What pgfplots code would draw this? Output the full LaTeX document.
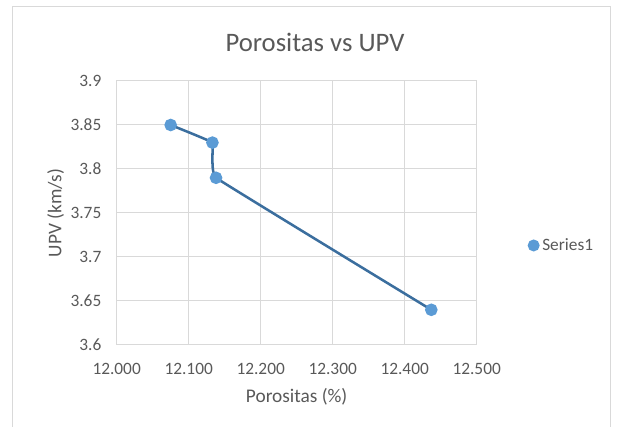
\documentclass[border=0pt]{standalone}
\usepackage{pgfplots}
\pgfplotsset{compat=1.18}
\usepackage{fontspec}
\setmainfont{Carlito}
\definecolor{gridc}{HTML}{D9D9D9}
\definecolor{txtc}{HTML}{595959}
\definecolor{linec}{HTML}{3B6E9E}
\definecolor{markc}{HTML}{5B9BD5}
\begin{document}
\begin{tikzpicture}[x=0.75pt,y=0.75pt]
\useasboundingbox (0,0) rectangle (620,427);
\draw[gridc,line width=0.75pt] (12,0) -- (12,420) -- (610,420) -- (610,0);
\node[txtc,font=\fontsize{20}{24}\selectfont] at (315,385) {Porositas vs UPV};
\begin{axis}[
  at={(87.5pt,61.5pt)}, anchor=south west,
  scale only axis, width=270pt, height=198pt,
  xmin=12, xmax=12.5, ymin=3.6, ymax=3.9,
  xtick={12,12.1,12.2,12.3,12.4,12.5},
  ytick={3.6,3.65,3.7,3.75,3.8,3.85,3.9},
  xticklabel style={yshift=-10.5pt,/pgf/number format/.cd,fixed,fixed zerofill,precision=3,1000 sep={}},
  yticklabel style={xshift=-8pt,/pgf/number format/.cd,fixed,precision=2},
  /pgf/number format/assume math mode=true,
  tick label style={font=\fontsize{13}{15}\selectfont, text=txtc},
  major tick length=0pt,
  grid=major,
  major grid style={gridc, line width=0.75pt},
  axis line style={gridc, line width=0.75pt},
  xlabel={Porositas (\%)}, ylabel={UPV (km/s)},
  label style={font=\fontsize{14.5}{17}\selectfont, text=txtc},
  xlabel style={yshift=-3pt},
  ylabel style={yshift=-2pt},
  legend style={at={(1.13,0.377)}, anchor=west, draw=none, fill=none,
    font=\fontsize{13}{15}\selectfont, text=txtc},
  legend image code/.code={\fill[markc] (0.1cm,0) circle (3.5pt);},
]
\addplot[linec, line width=1.9pt, smooth, tension=0.1,
  mark=*, mark size=3.75pt, mark options={fill=markc, draw=markc}]
  coordinates {(12.075,3.85) (12.133,3.83) (12.138,3.79) (12.437,3.64)};
\addlegendentry{Series1}
\end{axis}
\end{tikzpicture}
\end{document}
